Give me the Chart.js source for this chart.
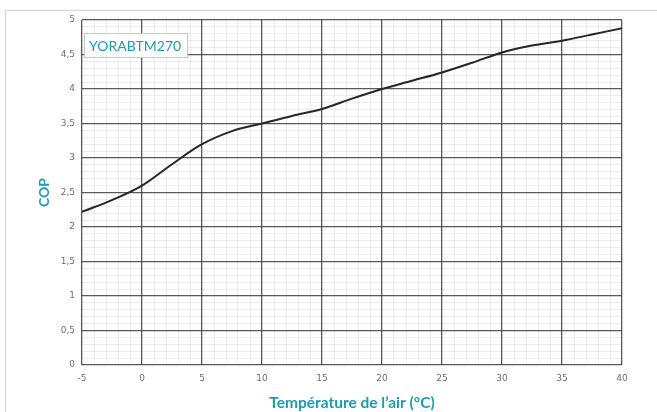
<!DOCTYPE html>
<html>
<head>
<meta charset="utf-8">
<script src="https://cdn.jsdelivr.net/npm/chart.js@4"></script>
<style>
  html, body { margin: 0; padding: 0; background: #fff; }
  #frame { position: absolute; left: 5px; top: 10px; width: 670px; height: 420px; border: 1px solid #d4d4d4; }
  #wrap { position: absolute; left: 0; top: 0; width: 657px; height: 412px; }
</style>
</head>
<body>
<div id="frame"></div>
<div id="wrap"><canvas id="myChart" width="657" height="412"></canvas></div>
<script>
// COP curve
const temps = [-5, -2.5, 0, 2.5, 5, 7.5, 10, 12.5, 15, 17.5, 20, 22.5, 25, 27.5, 30, 32.5, 35, 37.5, 40];
const cop = [2.22, 2.39, 2.6, 2.91, 3.2, 3.39, 3.5, 3.61, 3.71, 3.86, 4.0, 4.12, 4.24, 4.38, 4.53, 4.63, 4.7, 4.79, 4.88];
const seriesName = 'YORABTM270';

const teal = '#1b9db3';
const majorGrid = 'rgba(60,60,60,0.85)';
const minorGrid = 'rgba(0,0,0,0.07)';

// draw the series name in a small box top-left of the plot
const nameBox = {
  id: 'nameBox',
  afterDraw(chart) {
    const ctx = chart.ctx;
    const a = chart.chartArea;
    ctx.save();
    ctx.fillStyle = '#fff';
    ctx.fillRect(a.left + 2, a.top + 13, 103, 24);
    ctx.strokeStyle = '#c8c8c8';
    ctx.lineWidth = 1;
    ctx.strokeRect(a.left + 2.5, a.top + 13.5, 103, 24);
    ctx.fillStyle = teal;
    ctx.font = '14px Lato';
    ctx.textBaseline = 'middle';
    ctx.fillText(seriesName, a.left + 7, a.top + 26);
    ctx.restore();
  }
};

const isHalf = (v) => Math.abs(v * 2 - Math.round(v * 2)) < 1e-6;

const ctx = document.getElementById('myChart');
const myChart = new Chart(ctx, {
  type: 'line',
  data: {
    datasets: [{
      label: seriesName,
      data: temps.map((t, i) => ({ x: t, y: cop[i] })),
      borderColor: '#262626',
      borderWidth: 2,
      pointRadius: 0,
      fill: false,
      cubicInterpolationMode: 'monotone'
    }]
  },
  options: {
    responsive: false,
    animation: false,
    layout: { padding: { top: 20, right: 35, left: 0, bottom: 0 } },
    plugins: {
      legend: { display: false },
      tooltip: { enabled: false }
    },
    scales: {
      x: {
        type: 'linear',
        min: -5,
        max: 40,
        afterFit: (s) => { s.height = 47; },
        border: { display: false },
        grid: {
          drawTicks: false,
          color: (c) => (c.tick.value % 5 === 0 ? majorGrid : minorGrid),
          lineWidth: (c) => (c.tick.value % 5 === 0 ? 1.3 : 1)
        },
        ticks: {
          stepSize: 1,
          autoSkip: false,
          maxRotation: 0,
          padding: 8,
          color: '#6e6e6e',
          font: { family: 'DejaVu Sans', size: 9 },
          callback: (v) => (v % 5 === 0 ? String(v) : '')
        },
        title: {
          display: true,
          text: 'Température de l\u2019air (°C)',
          color: teal,
          font: { family: 'Lato', size: 15.5, weight: 'bold' },
          padding: { top: 0, bottom: 0 }
        }
      },
      y: {
        min: 0,
        max: 5,
        afterFit: (s) => { s.width = 82; },
        border: { display: false },
        grid: {
          drawTicks: false,
          color: (c) => (isHalf(c.tick.value) ? majorGrid : minorGrid),
          lineWidth: (c) => (isHalf(c.tick.value) ? 1.3 : 1)
        },
        ticks: {
          stepSize: 0.1,
          autoSkip: false,
          padding: 7,
          color: '#6e6e6e',
          font: { family: 'DejaVu Sans', size: 9 },
          callback: (v) => {
            const h = Math.round(v * 10) / 10;
            if (!isHalf(h)) return '';
            return String(h).replace('.', ',');
          }
        },
        title: {
          display: true,
          text: 'COP',
          color: teal,
          font: { family: 'Lato', size: 14, weight: 'bold' },
          padding: { top: 36, bottom: 0 }
        }
      }
    }
  },
  plugins: [nameBox]
});
</script>
</body>
</html>
